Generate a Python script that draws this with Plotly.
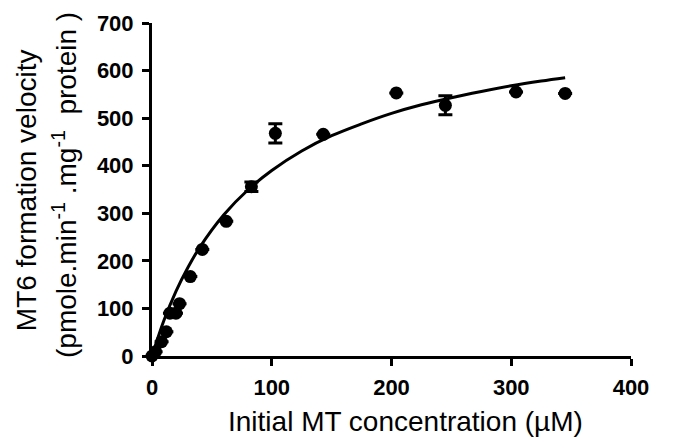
import plotly.graph_objects as go

conc_uM = [0, 3, 8, 12, 15, 20, 23, 32, 42, 62, 83, 103, 143, 204, 245, 304, 345]
velocity = [0, 9, 30, 51, 90, 90, 110, 167, 224, 283, 356, 468, 466, 553, 527, 555, 552]
velocity_err = [0, 0, 0, 0, 0, 0, 0, 0, 0, 0, 10, 20, 0, 0, 20, 0, 0]

# Fitted curve
fit_x = [0, 10, 20, 30, 40, 60, 80, 100, 125, 150, 175, 200, 225, 250, 275, 300, 325, 345]
fit_y = [0, 75, 136, 186, 229, 297, 349, 390, 431, 463, 488, 510, 528, 543, 556, 568, 578, 585]

x_ticks = [0, 100, 200, 300, 400]
y_ticks = [0, 100, 200, 300, 400, 500, 600, 700]

FONT = "Liberation Sans, Arial, sans-serif"

fig = go.Figure()
fig.add_trace(go.Scatter(
    x=fit_x, y=fit_y, mode="lines", line=dict(color="black", width=3, shape="spline"),
    hoverinfo="skip", showlegend=False, cliponaxis=False))
fig.add_trace(go.Scatter(
    x=conc_uM, y=velocity, mode="markers",
    marker=dict(color="black", size=13, symbol="circle"),
    error_y=dict(type="data", array=velocity_err, color="black", thickness=3, width=7, visible=True),
    showlegend=False, cliponaxis=False))

axis_common = dict(
    showline=True, linecolor="black", linewidth=3, mirror=False,
    ticks="outside", ticklen=7, tickwidth=3, tickcolor="black",
    showgrid=False, zeroline=False,
    tickfont=dict(family=FONT, size=22, color="black", weight="bold"),
)

fig.update_layout(
    width=678, height=440,
    margin=dict(l=152, r=47, t=23, b=84, pad=0),
    paper_bgcolor="white", plot_bgcolor="white",
    xaxis=dict(range=[0, 400], tickvals=x_ticks, ticklabelstandoff=3, **axis_common),
    yaxis=dict(range=[0, 700], tickvals=y_ticks, ticklabelstandoff=4, **axis_common),
    annotations=[
        dict(text="Initial MT concentration (\u00b5M)", xref="paper", yref="paper",
             x=0.530, y=-0.145, xanchor="center", yanchor="top", showarrow=False,
             font=dict(family=FONT, size=28, color="black")),
        dict(text="MT6 formation velocity", xref="paper", yref="paper",
             x=-0.263, y=0.498, xanchor="center", yanchor="middle", textangle=-90,
             showarrow=False, font=dict(family=FONT, size=28, color="black")),
        dict(text="(pmole.min<sup>-1</sup> .mg<sup>-1</sup>  protein )", xref="paper", yref="paper",
             x=-0.182, y=0.513, xanchor="center", yanchor="middle", textangle=-90,
             showarrow=False, font=dict(family=FONT, size=28, color="black")),
    ],
)

fig.write_html("out.html")
